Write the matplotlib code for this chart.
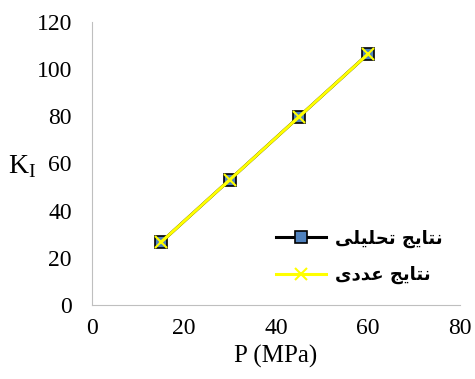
import matplotlib
matplotlib.use('Agg')
import matplotlib.pyplot as plt

# data
p_mpa = [15, 30, 45, 60]
k_analytic = [26.6, 53.2, 79.8, 106.4]
k_numeric = [26.6, 53.2, 79.8, 106.4]

# Persian labels, pre-shaped (presentation forms) since matplotlib does no shaping
lbl_analytic = "\uFEE7\uFE98\uFE8E\uFBFE\uFE9E \uFE97\uFEA4\uFEE0\uFBFF\uFEE0\uFBFD"[::-1]
lbl_numeric = "\uFEE7\uFE98\uFE8E\uFBFE\uFE9E \uFECB\uFEAA\uFEA9\uFBFC"[::-1]

plt.rcParams['font.family'] = ['Liberation Serif', 'DejaVu Sans']
plt.rcParams['mathtext.fontset'] = 'custom'
plt.rcParams['mathtext.rm'] = 'Liberation Serif'

fig = plt.figure(figsize=(4.75, 3.79), dpi=100)
ax = fig.add_axes([0.1937, 0.1953, 0.7747, 0.7467])

ax.plot(p_mpa, k_analytic, color='black', lw=2.2, marker='s', ms=8,
        mfc='#4F81BD', mec='black', mew=1.2, label=lbl_analytic)
ax.plot(p_mpa, k_numeric, color='#FFFF00', lw=2.2, marker='x', ms=9,
        mew=1.5, label=lbl_numeric)

ax.set_xlim(0, 80)
ax.set_ylim(0, 120)
ax.set_xticks(range(0, 81, 20))
ax.set_yticks(range(0, 121, 20))
ax.tick_params(length=0, labelsize=17)
ax.tick_params(axis='y', pad=14.5)
ax.tick_params(axis='x', pad=9.5)
for s in ['top', 'right']:
    ax.spines[s].set_visible(False)
for s in ['left', 'bottom']:
    ax.spines[s].set_color('#BFBFBF')

ax.set_xlabel('P (MPa)', fontsize=18, labelpad=4)
ax.set_ylabel('K$_\\mathrm{I}$', fontsize=20, rotation=0, va='center')
ax.yaxis.set_label_coords(-0.19, 0.49)

ax.legend(loc='center left', bbox_to_anchor=(0.455, 0.17), frameon=False,
          prop={'family': ['DejaVu Sans'], 'weight': 'bold', 'size': 13},
          handlelength=2.8, handletextpad=0.5, labelspacing=1.0)

fig.savefig('out.png', dpi=100)
